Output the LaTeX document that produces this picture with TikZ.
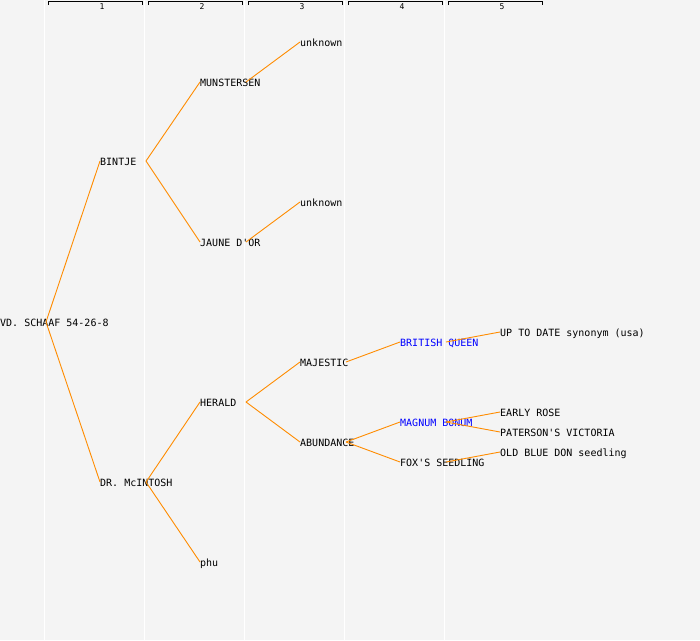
\documentclass[tikz,border=0pt]{standalone}
\usepackage{fontspec}
\newfontfamily\monofont{DejaVu Sans Mono}
\definecolor{bgc}{HTML}{F4F4F4}
\definecolor{edgec}{HTML}{FF8C00}
\definecolor{bluec}{HTML}{0000FF}
\tikzset{
  plant/.style={anchor=base west,inner sep=0pt,font=\monofont\fontsize{10}{11}\selectfont,text=black},
  blueplant/.style={plant,text=bluec},
  edge/.style={draw=edgec,line width=0.9pt},
  colline/.style={draw=white,line width=1.2pt},
  bracket/.style={draw=black,line width=1pt},
  colnum/.style={anchor=base,inner sep=0pt,font=\monofont\fontsize{8}{9}\selectfont}
}
% \pnode{name}{x}{y}{style}{text}
\newcommand\pnode[5]{%
  \coordinate (#1-in) at (#2,#3);
  \coordinate (#1-out) at (#2+46,#3);
  \node[#4] (#1) at (#2,#3+4) {#5};
}
\begin{document}
\begin{tikzpicture}[x=1pt,y=-1pt]
\fill[bgc] (0,0) rectangle (700,640);
\useasboundingbox (0,0) rectangle (700,640);
% column separators
\foreach \i in {1,...,5}{
  \draw[colline] (\i*100-55.5,0) -- (\i*100-55.5,640);
}
% header brackets
\foreach \i in {1,...,5}{
  \draw[bracket] (\i*100-52,5) -- (\i*100-52,1.5) -- (\i*100+42,1.5) -- (\i*100+42,5);
  \node[colnum] at (\i*100+2,9.5) {\i};
}
% plants
\pnode{vd}{0}{322}{plant}{VD. SCHAAF 54-26-8}
\pnode{bintje}{100}{161}{plant}{BINTJE}
\pnode{mcintosh}{100}{482}{plant}{DR. McINTOSH}
\pnode{munstersen}{200}{82}{plant}{MUNSTERSEN}
\pnode{jaune}{200}{242}{plant}{JAUNE D'OR}
\pnode{herald}{200}{402}{plant}{HERALD}
\pnode{phu}{200}{562}{plant}{phu}
\pnode{unka}{300}{42}{plant}{unknown}
\pnode{unkb}{300}{202}{plant}{unknown}
\pnode{majestic}{300}{362}{plant}{MAJESTIC}
\pnode{abundance}{300}{442}{plant}{ABUNDANCE}
\pnode{british}{400}{342}{blueplant}{BRITISH QUEEN}
\pnode{magnum}{400}{422}{blueplant}{MAGNUM BONUM}
\pnode{foxs}{400}{462}{plant}{FOX'S SEEDLING}
\pnode{uptodate}{500}{332}{plant}{UP TO DATE synonym (usa)}
\pnode{early}{500}{412}{plant}{EARLY ROSE}
\pnode{paterson}{500}{432}{plant}{PATERSON'S VICTORIA}
\pnode{oldblue}{500}{452}{plant}{OLD BLUE DON seedling}
% edges
\draw[edge] (vd-out) -- (bintje-in);
\draw[edge] (vd-out) -- (mcintosh-in);
\draw[edge] (bintje-out) -- (munstersen-in);
\draw[edge] (bintje-out) -- (jaune-in);
\draw[edge] (munstersen-out) -- (unka-in);
\draw[edge] (jaune-out) -- (unkb-in);
\draw[edge] (mcintosh-out) -- (herald-in);
\draw[edge] (mcintosh-out) -- (phu-in);
\draw[edge] (herald-out) -- (majestic-in);
\draw[edge] (herald-out) -- (abundance-in);
\draw[edge] (majestic-out) -- (british-in);
\draw[edge] (abundance-out) -- (magnum-in);
\draw[edge] (abundance-out) -- (foxs-in);
\draw[edge] (british-out) -- (uptodate-in);
\draw[edge] (magnum-out) -- (early-in);
\draw[edge] (magnum-out) -- (paterson-in);
\draw[edge] (foxs-out) -- (oldblue-in);
\end{tikzpicture}
\end{document}
